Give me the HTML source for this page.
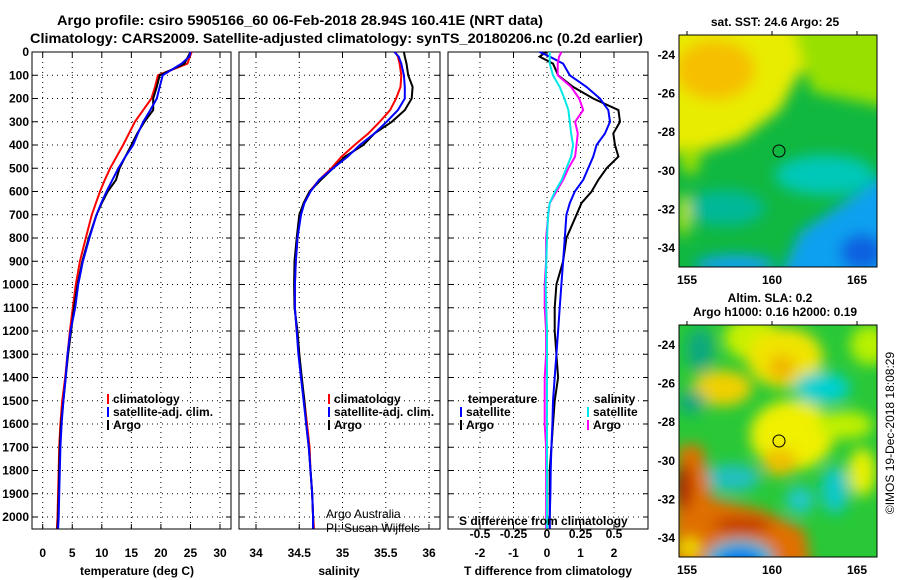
<!DOCTYPE html>
<html><head><meta charset="utf-8"><style>
body{margin:0;background:#fff;}
svg{display:block;font-family:"Liberation Sans",sans-serif;}
.b{font-weight:bold;font-size:12px;}
</style></head><body>
<svg id="chart" width="900" height="580" viewBox="0 0 900 580">
<defs>
<filter id="bl" x="-50%" y="-50%" width="200%" height="200%"><feGaussianBlur stdDeviation="7"/></filter>
<clipPath id="c1"><rect x="679" y="35" width="198" height="232"/></clipPath>
<clipPath id="c2"><rect x="679" y="325" width="198" height="232"/></clipPath>
</defs>
<text x="57" y="25" font-size="14" font-weight="bold" textLength="486" lengthAdjust="spacingAndGlyphs">Argo profile: csiro 5905166_60 06-Feb-2018 28.94S 160.41E (NRT data)</text>
<text x="30" y="43" font-size="14" font-weight="bold" textLength="613" lengthAdjust="spacingAndGlyphs">Climatology: CARS2009. Satellite-adjusted climatology: synTS_20180206.nc (0.2d earlier)</text>
<g id="panels"></g>
<g>
<g clip-path="url(#c1)">
<rect x="679" y="35" width="198" height="232" fill="#10b840"/>
<g filter="url(#bl)">
<polygon points="640,0 900,0 900,50 800,72 780,110 740,140 700,152 640,152" fill="#e8ec00"/>
<polygon points="790,20 900,20 900,110 812,92" fill="#98e000"/>
<ellipse cx="715" cy="70" rx="40" ry="30" fill="#f6c000"/>
<polygon points="800,232 900,165 900,300 770,300" fill="#10a0f0"/>
<ellipse cx="862" cy="252" rx="22" ry="18" fill="#1060e0"/>
<ellipse cx="825" cy="175" rx="50" ry="20" fill="#00c8b8"/>
<ellipse cx="725" cy="208" rx="40" ry="18" fill="#00b898"/>
<ellipse cx="735" cy="265" rx="40" ry="10" fill="#10a0f0"/>
<ellipse cx="684" cy="215" rx="6" ry="22" fill="#c8e800"/>
<ellipse cx="690" cy="160" rx="10" ry="15" fill="#a0e000"/>
</g></g>
<rect x="679" y="35" width="198" height="232" fill="none" stroke="#000"/>
<circle cx="779" cy="151" r="6" fill="none" stroke="#000"/>
</g>
<g>
<g clip-path="url(#c2)">
<rect x="679" y="325" width="198" height="232" fill="#28c838"/>
<g filter="url(#bl)">
<ellipse cx="752" cy="338" rx="28" ry="22" fill="#c8f000"/>
<ellipse cx="785" cy="358" rx="38" ry="30" fill="#f0e400"/>
<ellipse cx="782" cy="368" rx="14" ry="14" fill="#f0b800"/>
<ellipse cx="722" cy="388" rx="30" ry="18" fill="#f0d000"/>
<ellipse cx="792" cy="435" rx="42" ry="35" fill="#f0f000"/>
<ellipse cx="780" cy="462" rx="18" ry="14" fill="#f0c000"/>
<ellipse cx="862" cy="472" rx="14" ry="24" fill="#e8f000"/>
<ellipse cx="845" cy="425" rx="28" ry="14" fill="#c0f000"/>
<ellipse cx="870" cy="345" rx="20" ry="20" fill="#b8f000"/>
<ellipse cx="822" cy="388" rx="28" ry="16" fill="#00d0d0"/>
<ellipse cx="732" cy="478" rx="28" ry="14" fill="#20c0c0"/>
<ellipse cx="800" cy="500" rx="14" ry="14" fill="#20c8c8"/>
<ellipse cx="835" cy="490" rx="14" ry="24" fill="#10c8c8"/>
<ellipse cx="700" cy="350" rx="14" ry="22" fill="#10a880"/>
<ellipse cx="692" cy="402" rx="14" ry="12" fill="#10a880"/>
<polygon points="679,445 702,445 712,498 762,510 805,530 812,570 670,570" fill="#e07000"/>
<ellipse cx="684" cy="487" rx="8" ry="24" fill="#b01000"/>
<ellipse cx="742" cy="525" rx="30" ry="8" fill="#c03800"/>
<ellipse cx="740" cy="560" rx="34" ry="20" fill="#00c0d0"/>
<ellipse cx="740" cy="562" rx="24" ry="14" fill="#0078f0"/>
<ellipse cx="690" cy="548" rx="10" ry="10" fill="#f0e000"/>
</g></g>
<rect x="679" y="325" width="198" height="232" fill="none" stroke="#000"/>
<circle cx="779" cy="441" r="6" fill="none" stroke="#000"/>
</g>
<text class="b" x="775" y="26" text-anchor="middle">sat. SST: 24.6 Argo: 25</text>
<text class="b" x="770" y="302" text-anchor="middle">Altim. SLA: 0.2</text>
<text class="b" x="775" y="316" text-anchor="middle">Argo h1000: 0.16 h2000: 0.19</text>
<text font-size="12" transform="translate(894,433) rotate(-90)" text-anchor="middle">©IMOS 19-Dec-2018 18:08:29</text>
</svg>
<script>
const depths=[0,20,50,100,150,200,250,300,350,400,450,500,550,600,650,700,800,900,1000,1100,1200,1300,1400,1500,1600,1700,1800,1900,2000,2050];
const tempClim=[25.2,24.9,24.5,19.5,19.0,18.4,17.0,15.6,14.6,13.6,12.5,11.4,10.5,9.7,9.0,8.3,7.3,6.3,5.6,5.1,4.6,4.2,3.8,3.3,3.0,2.8,2.7,2.6,2.5,2.4];
const tempSat=[25.0,24.8,23.5,20.3,19.8,19.3,18.2,17.0,16.1,15.3,14.0,12.8,11.8,10.8,9.9,9.1,7.9,6.8,6.0,5.5,4.7,4.2,3.9,3.5,3.2,3.0,2.9,2.8,2.7,2.6];
const tempArgo=[25.0,24.6,24.0,19.8,19.3,18.7,18.7,17.2,16.0,15.0,14.0,13.0,12.4,11.0,10.0,9.1,7.8,6.7,5.9,5.3,4.8,4.3,3.9,3.5,3.1,2.9,2.8,2.7,2.6,2.5];
const salClim=[35.61,35.64,35.66,35.68,35.67,35.62,35.55,35.43,35.30,35.14,34.99,34.87,34.73,34.62,34.55,34.51,34.48,34.46,34.45,34.45,34.47,34.50,34.52,34.56,34.59,34.62,34.63,34.65,34.66,34.67];
const salSat=[35.60,35.65,35.68,35.71,35.72,35.72,35.64,35.51,35.37,35.20,35.06,34.89,34.73,34.63,34.56,34.52,34.48,34.46,34.45,34.45,34.47,34.49,34.52,34.55,34.58,34.61,34.63,34.65,34.66,34.66];
const salArgo=[35.71,35.72,35.74,35.76,35.81,35.80,35.72,35.57,35.37,35.24,35.03,34.89,34.75,34.62,34.55,34.50,34.47,34.445,34.44,34.445,34.48,34.50,34.53,34.56,34.58,34.61,34.63,34.65,34.66,34.66];
const dTSat=[-0.22,0.08,0.48,0.68,1.18,1.58,1.83,1.88,1.73,1.48,1.38,1.23,1.08,0.83,0.68,0.58,0.53,0.48,0.43,0.38,0.33,0.28,0.23,0.18,0.16,0.13,0.11,0.10,0.08,0.08];
const dTArgo=[-0.02,-0.22,0.18,0.33,0.78,1.38,2.13,2.18,1.98,2.03,2.13,1.78,1.53,1.33,1.03,0.88,0.58,0.48,0.28,0.23,0.23,0.28,0.33,0.23,0.18,0.13,0.08,0.08,0.08,0.08];
const dSSat=[0.02,0.02,0.02,0.045,0.095,0.13,0.16,0.17,0.18,0.195,0.18,0.145,0.11,0.06,0.02,0.008,0,-0.005,-0.01,-0.005,0,0,0,0,0,0,0,0,0,0];
const dSArgo=[0.108,0.09,0.08,0.08,0.18,0.24,0.27,0.21,0.23,0.22,0.21,0.16,0.12,0.07,0.02,0.01,-0.007,-0.007,-0.017,-0.017,-0.007,-0.007,-0.017,-0.017,-0.017,-0.007,-0.007,-0.007,-0.007,-0.007];
const depthTicks=[0,100,200,300,400,500,600,700,800,900,1000,1100,1200,1300,1400,1500,1600,1700,1800,1900,2000];
const tempTicks=[0,5,10,15,20,25,30];
const salTicks=[34,34.5,35,35.5,36];
const salTickLabels=["34","34.5","35","35.5","36"];
const dTTicks=[-2,-1,0,1,2];
const dSTicks=[-0.5,-0.25,0,0.25,0.5];
const dSTickLabels=["-0.5","-0.25","0","0.25","0.5"];
const latTicks=[-24,-26,-28,-30,-32,-34];
const lonTicks=[155,160,165];

const NS="http://www.w3.org/2000/svg";
const root=document.getElementById('panels');
function mk(tag,attrs,parent,txt){const e=document.createElementNS(NS,tag);for(const k in attrs)e.setAttribute(k,attrs[k]);if(txt!==undefined)e.textContent=txt;(parent||root).appendChild(e);return e;}
const Y0=52,Y1=529;
const yD=d=>Y0+d*0.2325;
function lin(d0,d1,r0,r1){return v=>r0+(v-d0)/(d1-d0)*(r1-r0);}
const panels=[
 {name:'temperature-panel',x0:32,x1:231,sx:lin(0,30,42.7,220)},
 {name:'salinity-panel',x0:239,x1:440,sx:lin(34,36,256,429)},
 {name:'difference-panel',x0:448,x1:648,sx:lin(0,2,547,614)}
];
const sxS=lin(0,0.5,547,614);
panels.forEach((p,i)=>{
 const g=mk('g',{});
 
 
 p.g=g;
 mk('rect',{x:p.x0,y:Y0,width:p.x1-p.x0,height:Y1-Y0,fill:'#fff',stroke:'#000','stroke-width':1},g);
 depthTicks.forEach(d=>{
  const l=mk('line',{x1:p.x0,x2:p.x1,y1:yD(d),y2:yD(d),stroke:'#000','stroke-dasharray':'1,4','stroke-width':1},g);
  
  
  mk('line',{x1:p.x0,x2:p.x0+5,y1:yD(d),y2:yD(d),stroke:'#000'},g);
  mk('line',{x1:p.x1-5,x2:p.x1,y1:yD(d),y2:yD(d),stroke:'#000'},g);
 });
});
// y labels
depthTicks.forEach(d=>{const t=mk('text',{x:29,y:yD(d)+4,'text-anchor':'end',class:'b'},root,String(d));
 });
function xticks(p,ticks,labels,fx,ylab){
 ticks.forEach((v,i)=>{const x=fx(v);
  mk('line',{x1:x,x2:x,y1:Y0,y2:Y1,stroke:'#000','stroke-dasharray':'1,4'},p.g);
  mk('line',{x1:x,x2:x,y1:Y1-5,y2:Y1,stroke:'#000'},p.g);
  mk('line',{x1:x,x2:x,y1:Y0,y2:Y0+5,stroke:'#000'},p.g);
  const t=mk('text',{x:x,y:ylab,'text-anchor':'middle',class:'b'},p.g,labels[i]);
  });
}
xticks(panels[0],tempTicks,tempTicks.map(String),panels[0].sx,557);
xticks(panels[1],salTicks,salTickLabels,panels[1].sx,557);
xticks(panels[2],dTTicks,dTTicks.map(String),panels[2].sx,557);
dSTicks.forEach((v,i)=>{const t=mk('text',{x:sxS(v),y:538,'text-anchor':'middle',class:'b'},panels[2].g,dSTickLabels[i]);
 });
function series(p,vals,fx,color,name){
 const pts=vals.map((v,i)=>fx(v).toFixed(1)+','+yD(depths[i]).toFixed(1)).join(' ');
 const l=mk('polyline',{points:pts,fill:'none',stroke:color,'stroke-width':2},p.g);
 
 
}
series(panels[0],tempClim,panels[0].sx,'#ff0000','temp-climatology-line');
series(panels[0],tempArgo,panels[0].sx,'#000','temp-argo-line');
series(panels[0],tempSat,panels[0].sx,'#0000ff','temp-satellite-line');
series(panels[1],salClim,panels[1].sx,'#ff0000','sal-climatology-line');
series(panels[1],salArgo,panels[1].sx,'#000','sal-argo-line');
series(panels[1],salSat,panels[1].sx,'#0000ff','sal-satellite-line');
series(panels[2],dTArgo,panels[2].sx,'#000','tdiff-argo-line');
series(panels[2],dTSat,panels[2].sx,'#0000ff','tdiff-satellite-line');
series(panels[2],dSArgo,sxS,'#ff00ff','sdiff-argo-line');
series(panels[2],dSSat,sxS,'#00e8e8','sdiff-satellite-line');
function legend(g,x,y,color,label){
 mk('rect',{x:x,y:y-9,width:2,height:10,fill:color},g);
 const t=mk('text',{x:x+6,y:y,class:'b'},g,label);
 
}
[[0,'#ff0000','climatology',403],[0,'#0000ff','satellite-adj. clim.',416],[0,'#000','Argo',429]].forEach(a=>legend(panels[0].g,107,a[3],a[1],a[2]));
[[1,'#ff0000','climatology',403],[1,'#0000ff','satellite-adj. clim.',416],[1,'#000','Argo',429]].forEach(a=>legend(panels[1].g,328,a[3],a[1],a[2]));
mk('text',{x:468,y:403,class:'b'},panels[2].g,'temperature');
legend(panels[2].g,460,416,'#0000ff','satellite');
legend(panels[2].g,460,429,'#000','Argo');
mk('text',{x:594,y:403,class:'b'},panels[2].g,'salinity');
legend(panels[2].g,587,416,'#00e8e8','satellite');
legend(panels[2].g,587,429,'#ff00ff','Argo');
mk('text',{x:459,y:525,class:'b'},panels[2].g,'S difference from climatology');
mk('text',{x:326,y:518,'font-size':12},panels[1].g,'Argo Australia');
mk('text',{x:326,y:532,'font-size':12},panels[1].g,'PI: Susan Wijffels');
[['temperature (deg C)',137],['salinity',339],['T difference from climatology',548]].forEach(a=>{
 const t=mk('text',{x:a[1],y:575,'text-anchor':'middle',class:'b'},root,a[0]);
 });
// map axes
const lonX=lin(155,165,687,857);
const latY=lin(-24,-34,55,248);
[[35,267,0],[325,557,290]].forEach(m=>{
 latTicks.forEach(v=>{const y=latY(v)+m[2];
  const t=mk('text',{x:675,y:y+4,'text-anchor':'end',class:'b'},root,String(v));
  
  mk('line',{x1:872,x2:877,y1:y,y2:y,stroke:'#000'});});
 lonTicks.forEach(v=>{const x=lonX(v);
  const t=mk('text',{x:x,y:m[1]+17,'text-anchor':'middle',class:'b'},root,String(v));
  
  mk('line',{x1:x,x2:x,y1:m[0]-4,y2:m[0],stroke:'#000'});});
});
</script>
</body></html>
